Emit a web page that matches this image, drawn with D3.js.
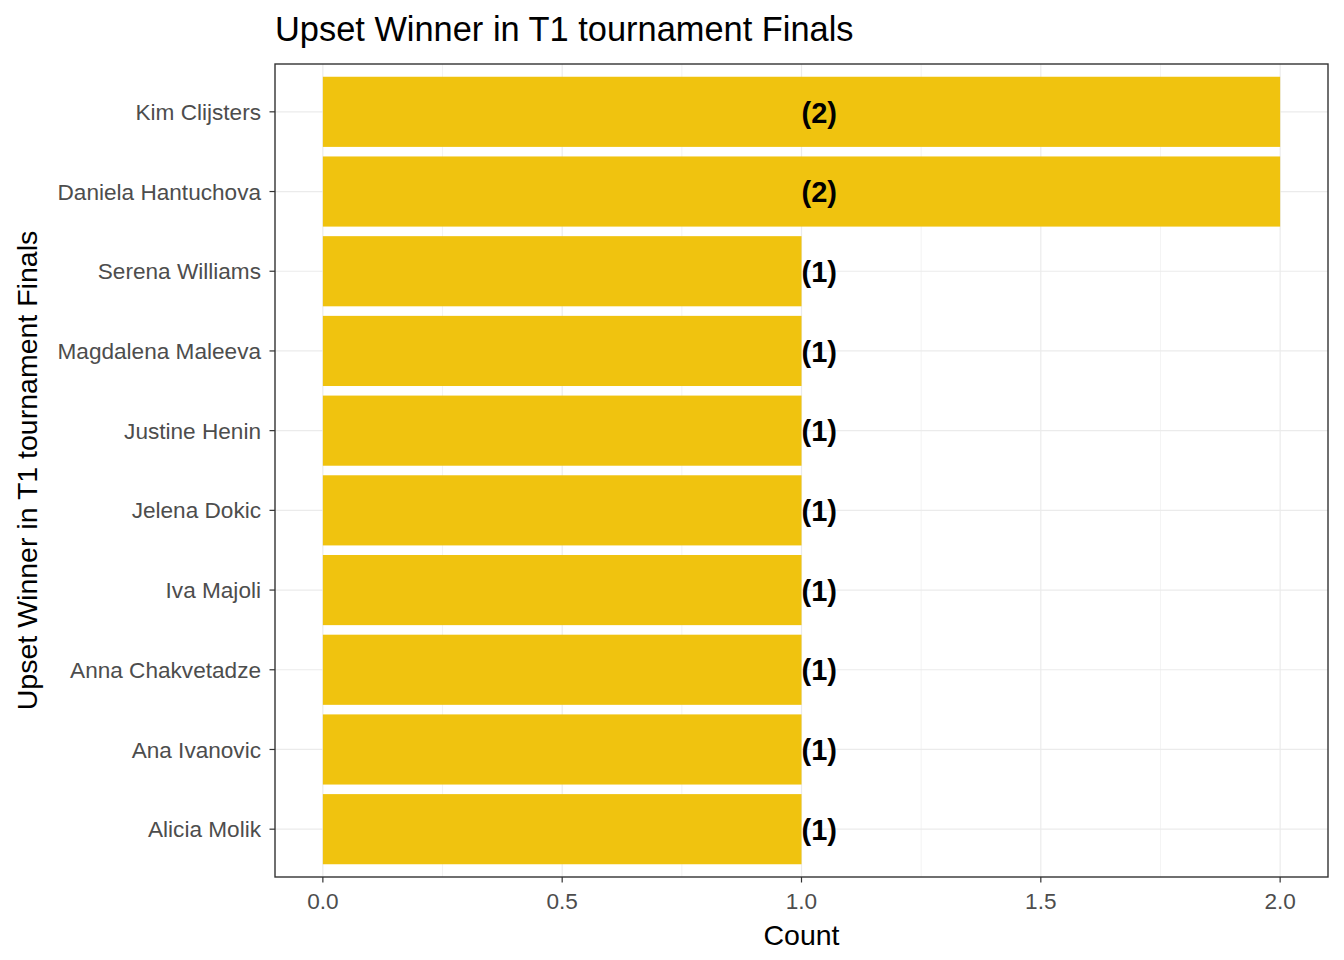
<!DOCTYPE html>
<html><head><meta charset="utf-8">
<script src="https://cdn.jsdelivr.net/npm/d3@7"></script>
<style>body{margin:0;background:#fff;} text{font-family:"Liberation Sans",Arial,sans-serif;}</style>
</head><body>
<svg id="c" width="1344" height="960"></svg>
<script>
const players = ["Kim Clijsters","Daniela Hantuchova","Serena Williams","Magdalena Maleeva","Justine Henin","Jelena Dokic","Iva Majoli","Anna Chakvetadze","Ana Ivanovic","Alicia Molik"];
const counts = [2,2,1,1,1,1,1,1,1,1];
const xTicks = [0,0.5,1,1.5,2];
const xMinor = [0.25,0.75,1.25,1.75];
const labelPos = 1;

const svg = d3.select("#c");
const L=275, R=1328, T=64, B=877;
const x = d3.scaleLinear().domain([0-0.1,2+0.1]).range([L,R]);
// ggplot-like discrete scale: 0.6 unit expansion on each side
const y = d3.scalePoint().domain(players).range([T,B]).padding(0.6);
const step = y.step();
const yc = d => y(d);
const barH = step*0.88;

const g = svg.append("g");
g.selectAll(".mn").data(xMinor).join("line").attr("x1",d=>x(d)).attr("x2",d=>x(d)).attr("y1",T).attr("y2",B).attr("stroke","#EBEBEB").attr("stroke-width",0.6);
g.selectAll(".mj").data(xTicks).join("line").attr("x1",d=>x(d)).attr("x2",d=>x(d)).attr("y1",T).attr("y2",B).attr("stroke","#EBEBEB").attr("stroke-width",1.2);
g.selectAll(".hy").data(players).join("line").attr("x1",L).attr("x2",R).attr("y1",d=>yc(d)).attr("y2",d=>yc(d)).attr("stroke","#EBEBEB").attr("stroke-width",1.2);

g.selectAll(".bar").data(players).join("rect")
 .attr("x",x(0)).attr("y",d=>yc(d)-barH/2).attr("height",barH)
 .attr("width",(d,i)=>x(counts[i])-x(0)).attr("fill","#F0C30F");

g.selectAll(".lab").data(players).join("text")
 .attr("x",x(labelPos)).attr("y",d=>yc(d)).attr("dy","0.37em")
 .attr("font-size",29).attr("font-weight","bold").attr("fill","#000")
 .text((d,i)=>"("+counts[i]+")");

svg.append("rect").attr("x",L).attr("y",T).attr("width",R-L).attr("height",B-T).attr("fill","none").attr("stroke","#333333").attr("stroke-width",1.4);

const ya = svg.append("g");
ya.selectAll("line").data(players).join("line").attr("x1",L-5.5).attr("x2",L).attr("y1",d=>yc(d)).attr("y2",d=>yc(d)).attr("stroke","#333").attr("stroke-width",1.2);
ya.selectAll("text").data(players).join("text").attr("x",L-14).attr("y",d=>yc(d)).attr("dy","0.36em").attr("text-anchor","end").attr("font-size",22.6).attr("fill","#4D4D4D").text(d=>d);

const xa = svg.append("g");
xa.selectAll("line").data(xTicks).join("line").attr("x1",d=>x(d)).attr("x2",d=>x(d)).attr("y1",B).attr("y2",B+5.5).attr("stroke","#333").attr("stroke-width",1.2);
xa.selectAll("text").data(xTicks).join("text").attr("x",d=>x(d)).attr("y",909).attr("text-anchor","middle").attr("font-size",22.6).attr("fill","#4D4D4D").text(d=>d3.format(".1f")(d));

svg.append("text").attr("x",(L+R)/2).attr("y",945).attr("text-anchor","middle").attr("font-size",28.5).attr("fill","#000").text("Count");
svg.append("text").attr("transform",`translate(37,${(T+B)/2}) rotate(-90)`).attr("text-anchor","middle").attr("font-size",28.5).attr("fill","#000").text("Upset Winner in T1 tournament Finals");
svg.append("text").attr("x",L).attr("y",41).attr("font-size",34.4).attr("fill","#000").text("Upset Winner in T1 tournament Finals");
</script>
</body></html>
